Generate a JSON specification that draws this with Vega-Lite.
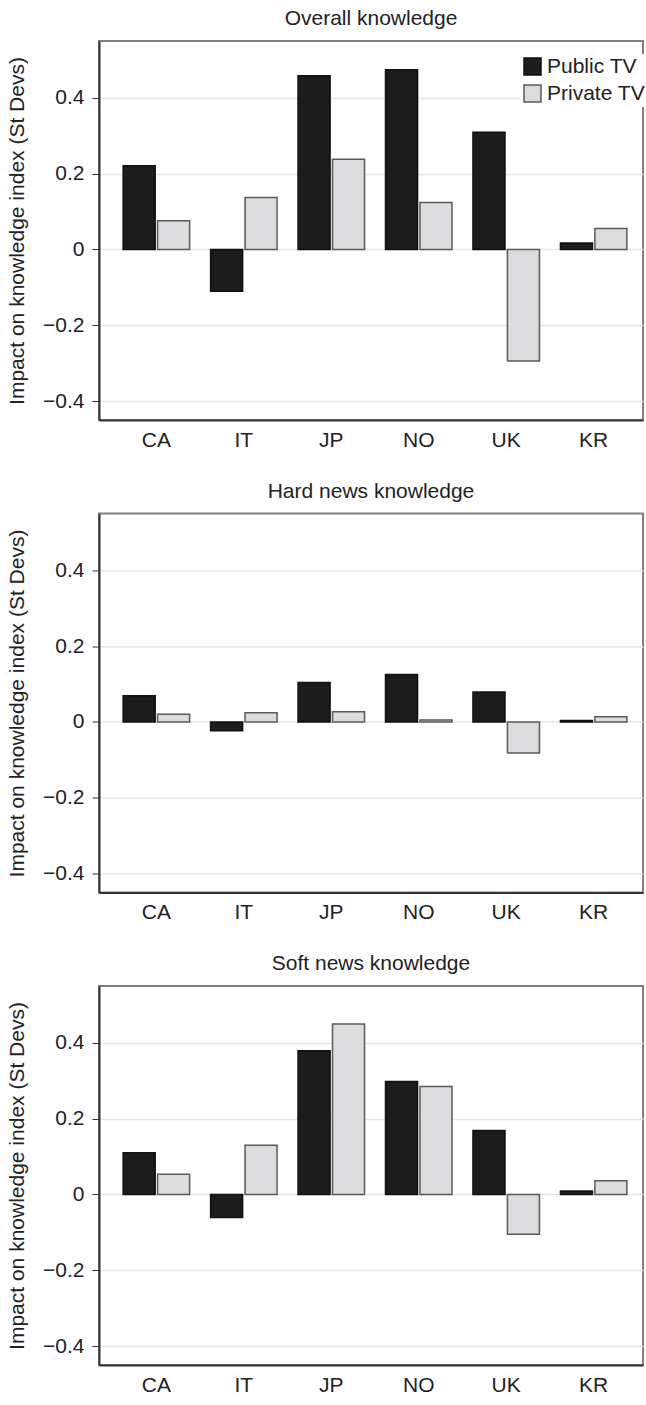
{
  "$schema": "https://vega.github.io/schema/vega-lite/v6.json",
  "padding": {"left": 5, "top": 7, "right": 0, "bottom": 0},
  "background": "white",
  "config": {
    "font": "Liberation Sans",
    "view": {"stroke": "#808080", "strokeWidth": 2},
    "axis": {"labelFontSize": 21, "labelColor": "#222", "titleFontSize": 21, "titleFontWeight": "normal", "titleColor": "#222", "domainColor": "#333", "domainWidth": 2, "tickColor": "#333", "gridColor": "#e6e6e6", "gridWidth": 1.5, "labelFont": "Liberation Sans", "titleFont": "Liberation Sans"},
    "title": {"fontSize": 21, "fontWeight": "normal", "color": "#222", "offset": 12, "font": "Liberation Sans"},
    "concat": {"spacing": 28.5},
    "legend": {"labelFontSize": 21, "labelColor": "#222", "symbolType": "square", "symbolSize": 289, "symbolStrokeWidth": 1.5, "rowPadding": 4, "labelOffset": 4, "fillColor": "white", "padding": 2, "labelFont": "Liberation Sans"}
  },
  "data": {"values": [
    {"panel": "Overall knowledge", "country": "CA", "type": "Public TV", "value": 0.221},
    {"panel": "Overall knowledge", "country": "CA", "type": "Private TV", "value": 0.076},
    {"panel": "Overall knowledge", "country": "IT", "type": "Public TV", "value": -0.110},
    {"panel": "Overall knowledge", "country": "IT", "type": "Private TV", "value": 0.137},
    {"panel": "Overall knowledge", "country": "JP", "type": "Public TV", "value": 0.458},
    {"panel": "Overall knowledge", "country": "JP", "type": "Private TV", "value": 0.238},
    {"panel": "Overall knowledge", "country": "NO", "type": "Public TV", "value": 0.474},
    {"panel": "Overall knowledge", "country": "NO", "type": "Private TV", "value": 0.124},
    {"panel": "Overall knowledge", "country": "UK", "type": "Public TV", "value": 0.309},
    {"panel": "Overall knowledge", "country": "UK", "type": "Private TV", "value": -0.294},
    {"panel": "Overall knowledge", "country": "KR", "type": "Public TV", "value": 0.017},
    {"panel": "Overall knowledge", "country": "KR", "type": "Private TV", "value": 0.055},
    {"panel": "Hard news knowledge", "country": "CA", "type": "Public TV", "value": 0.069},
    {"panel": "Hard news knowledge", "country": "CA", "type": "Private TV", "value": 0.020},
    {"panel": "Hard news knowledge", "country": "IT", "type": "Public TV", "value": -0.023},
    {"panel": "Hard news knowledge", "country": "IT", "type": "Private TV", "value": 0.024},
    {"panel": "Hard news knowledge", "country": "JP", "type": "Public TV", "value": 0.104},
    {"panel": "Hard news knowledge", "country": "JP", "type": "Private TV", "value": 0.027},
    {"panel": "Hard news knowledge", "country": "NO", "type": "Public TV", "value": 0.125},
    {"panel": "Hard news knowledge", "country": "NO", "type": "Private TV", "value": 0.005},
    {"panel": "Hard news knowledge", "country": "UK", "type": "Public TV", "value": 0.079},
    {"panel": "Hard news knowledge", "country": "UK", "type": "Private TV", "value": -0.082},
    {"panel": "Hard news knowledge", "country": "KR", "type": "Public TV", "value": 0.004},
    {"panel": "Hard news knowledge", "country": "KR", "type": "Private TV", "value": 0.014},
    {"panel": "Soft news knowledge", "country": "CA", "type": "Public TV", "value": 0.110},
    {"panel": "Soft news knowledge", "country": "CA", "type": "Private TV", "value": 0.053},
    {"panel": "Soft news knowledge", "country": "IT", "type": "Public TV", "value": -0.061},
    {"panel": "Soft news knowledge", "country": "IT", "type": "Private TV", "value": 0.130},
    {"panel": "Soft news knowledge", "country": "JP", "type": "Public TV", "value": 0.379},
    {"panel": "Soft news knowledge", "country": "JP", "type": "Private TV", "value": 0.450},
    {"panel": "Soft news knowledge", "country": "NO", "type": "Public TV", "value": 0.298},
    {"panel": "Soft news knowledge", "country": "NO", "type": "Private TV", "value": 0.285},
    {"panel": "Soft news knowledge", "country": "UK", "type": "Public TV", "value": 0.169},
    {"panel": "Soft news knowledge", "country": "UK", "type": "Private TV", "value": -0.105},
    {"panel": "Soft news knowledge", "country": "KR", "type": "Public TV", "value": 0.009},
    {"panel": "Soft news knowledge", "country": "KR", "type": "Private TV", "value": 0.036}
  ]},
  "vconcat": [
    {
      "title": "Overall knowledge",
      "width": 544, "height": 379,
      "transform": [{"filter": "datum.panel === 'Overall knowledge'"}],
      "mark": {"type": "bar", "strokeWidth": 1.5},
      "encoding": {
        "x": {"field": "country", "type": "nominal", "sort": ["CA","IT","JP","NO","UK","KR"], "scale": {"paddingInner": 0.24, "paddingOuter": 0.23, "align": 0.6}, "axis": {"title": null, "ticks": false, "labelAngle": 0, "labelPadding": 9, "grid": false}},
        "xOffset": {"field": "type", "type": "nominal", "sort": ["Public TV","Private TV"], "scale": {"paddingInner": 0.07}},
        "y": {"field": "value", "type": "quantitative", "scale": {"domain": [-0.45, 0.55], "nice": false}, "axis": {"title": "Impact on knowledge index (St Devs)", "values": [-0.4,-0.2,0,0.2,0.4], "format": ".1~f", "tickSize": 7, "labelPadding": 8, "titlePadding": 15, "grid": true}},
        "fill": {"field": "type", "type": "nominal", "scale": {"domain": ["Public TV","Private TV"], "range": ["#1c1c1c","#dcdcde"]}, "legend": {"title": null, "orient": "none", "legendX": 421, "legendY": 13}},
        "stroke": {"field": "type", "type": "nominal", "scale": {"domain": ["Public TV","Private TV"], "range": ["#111111","#5a5a5a"]}, "legend": {"title": null, "orient": "none", "legendX": 421, "legendY": 13}}
      }
    },
    {
      "title": "Hard news knowledge",
      "width": 544, "height": 379,
      "transform": [{"filter": "datum.panel === 'Hard news knowledge'"}],
      "mark": {"type": "bar", "strokeWidth": 1.5},
      "encoding": {
        "x": {"field": "country", "type": "nominal", "sort": ["CA","IT","JP","NO","UK","KR"], "scale": {"paddingInner": 0.24, "paddingOuter": 0.23, "align": 0.6}, "axis": {"title": null, "ticks": false, "labelAngle": 0, "labelPadding": 9, "grid": false}},
        "xOffset": {"field": "type", "type": "nominal", "sort": ["Public TV","Private TV"], "scale": {"paddingInner": 0.07}},
        "y": {"field": "value", "type": "quantitative", "scale": {"domain": [-0.45, 0.55], "nice": false}, "axis": {"title": "Impact on knowledge index (St Devs)", "values": [-0.4,-0.2,0,0.2,0.4], "format": ".1~f", "tickSize": 7, "labelPadding": 8, "titlePadding": 15, "grid": true}},
        "fill": {"field": "type", "type": "nominal", "scale": {"domain": ["Public TV","Private TV"], "range": ["#1c1c1c","#dcdcde"]}, "legend": {"title": null, "orient": "none", "legendX": 421, "legendY": 13}},
        "stroke": {"field": "type", "type": "nominal", "scale": {"domain": ["Public TV","Private TV"], "range": ["#111111","#5a5a5a"]}, "legend": {"title": null, "orient": "none", "legendX": 421, "legendY": 13}}
      }
    },
    {
      "title": "Soft news knowledge",
      "width": 544, "height": 379,
      "transform": [{"filter": "datum.panel === 'Soft news knowledge'"}],
      "mark": {"type": "bar", "strokeWidth": 1.5},
      "encoding": {
        "x": {"field": "country", "type": "nominal", "sort": ["CA","IT","JP","NO","UK","KR"], "scale": {"paddingInner": 0.24, "paddingOuter": 0.23, "align": 0.6}, "axis": {"title": null, "ticks": false, "labelAngle": 0, "labelPadding": 9, "grid": false}},
        "xOffset": {"field": "type", "type": "nominal", "sort": ["Public TV","Private TV"], "scale": {"paddingInner": 0.07}},
        "y": {"field": "value", "type": "quantitative", "scale": {"domain": [-0.45, 0.55], "nice": false}, "axis": {"title": "Impact on knowledge index (St Devs)", "values": [-0.4,-0.2,0,0.2,0.4], "format": ".1~f", "tickSize": 7, "labelPadding": 8, "titlePadding": 15, "grid": true}},
        "fill": {"field": "type", "type": "nominal", "scale": {"domain": ["Public TV","Private TV"], "range": ["#1c1c1c","#dcdcde"]}, "legend": {"title": null, "orient": "none", "legendX": 421, "legendY": 13}},
        "stroke": {"field": "type", "type": "nominal", "scale": {"domain": ["Public TV","Private TV"], "range": ["#111111","#5a5a5a"]}, "legend": {"title": null, "orient": "none", "legendX": 421, "legendY": 13}}
      }
    }
  ]
}
